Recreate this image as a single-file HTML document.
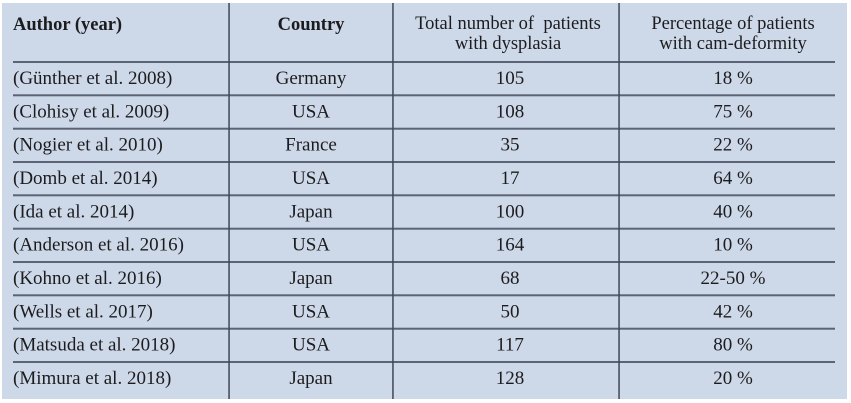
<!DOCTYPE html>
<html>
<head>
<meta charset="utf-8">
<style>
  html, body { margin:0; padding:0; background:#ffffff; }
  body { width:851px; height:403px; overflow:hidden; }
  svg { display:block; }
  text { font-family: "Liberation Serif", serif; font-size:18.5px; fill:#1c1c1f; }
  .b { font-weight:bold; }
  .r text { font-size:19px; }
</style>
</head>
<body>
<svg width="851" height="403" viewBox="0 0 851 403" xmlns="http://www.w3.org/2000/svg">
  <rect x="2" y="3" width="845" height="396" fill="#cdd8e8"/>
  <!-- horizontal lines -->
  <g fill="#5a6474">
    <rect x="13" y="61" width="822" height="2"/>
    <rect x="13" y="94.3" width="822" height="2"/>
    <rect x="13" y="127.7" width="822" height="2"/>
    <rect x="13" y="161" width="822" height="2"/>
    <rect x="13" y="194.3" width="822" height="2"/>
    <rect x="13" y="227.7" width="822" height="2"/>
    <rect x="13" y="261" width="822" height="2"/>
    <rect x="13" y="294.3" width="822" height="2"/>
    <rect x="13" y="327.7" width="822" height="2"/>
    <rect x="13" y="361" width="822" height="2"/>
  </g>
  <!-- vertical lines -->
  <g fill="#3f4858">
    <rect x="228.3" y="3" width="1.5" height="396"/>
    <rect x="392.2" y="3" width="1.5" height="396"/>
    <rect x="618.3" y="3" width="1.5" height="396"/>
  </g>

  <!-- header -->
  <text class="b" x="13" y="30">Author (year)</text>
  <text class="b" x="311" y="30" text-anchor="middle">Country</text>
  <text x="508" y="29" text-anchor="middle" xml:space="preserve">Total number of  patients</text>
  <text x="508" y="49" text-anchor="middle">with dysplasia</text>
  <text x="733" y="29" text-anchor="middle">Percentage of patients</text>
  <text x="733" y="49" text-anchor="middle">with cam-deformity</text>

  <!-- rows -->
  <g class="r">
    <text x="13" y="84">(Günther et al. 2008)</text>
    <text x="311" y="84" text-anchor="middle">Germany</text>
    <text x="510" y="84" text-anchor="middle">105</text>
    <text x="733" y="84" text-anchor="middle">18 %</text>

    <text x="13" y="117.3">(Clohisy et al. 2009)</text>
    <text x="311" y="117.3" text-anchor="middle">USA</text>
    <text x="510" y="117.3" text-anchor="middle">108</text>
    <text x="733" y="117.3" text-anchor="middle">75 %</text>

    <text x="13" y="150.7">(Nogier et al. 2010)</text>
    <text x="311" y="150.7" text-anchor="middle">France</text>
    <text x="510" y="150.7" text-anchor="middle">35</text>
    <text x="733" y="150.7" text-anchor="middle">22 %</text>

    <text x="13" y="184">(Domb et al. 2014)</text>
    <text x="311" y="184" text-anchor="middle">USA</text>
    <text x="510" y="184" text-anchor="middle">17</text>
    <text x="733" y="184" text-anchor="middle">64 %</text>

    <text x="13" y="217.3">(Ida et al. 2014)</text>
    <text x="311" y="217.3" text-anchor="middle">Japan</text>
    <text x="510" y="217.3" text-anchor="middle">100</text>
    <text x="733" y="217.3" text-anchor="middle">40 %</text>

    <text x="13" y="250.7">(Anderson et al. 2016)</text>
    <text x="311" y="250.7" text-anchor="middle">USA</text>
    <text x="510" y="250.7" text-anchor="middle">164</text>
    <text x="733" y="250.7" text-anchor="middle">10 %</text>

    <text x="13" y="284">(Kohno et al. 2016)</text>
    <text x="311" y="284" text-anchor="middle">Japan</text>
    <text x="510" y="284" text-anchor="middle">68</text>
    <text x="733" y="284" text-anchor="middle">22-50 %</text>

    <text x="13" y="317.3">(Wells et al. 2017)</text>
    <text x="311" y="317.3" text-anchor="middle">USA</text>
    <text x="510" y="317.3" text-anchor="middle">50</text>
    <text x="733" y="317.3" text-anchor="middle">42 %</text>

    <text x="13" y="350.7">(Matsuda et al. 2018)</text>
    <text x="311" y="350.7" text-anchor="middle">USA</text>
    <text x="510" y="350.7" text-anchor="middle">117</text>
    <text x="733" y="350.7" text-anchor="middle">80 %</text>

    <text x="13" y="384">(Mimura et al. 2018)</text>
    <text x="311" y="384" text-anchor="middle">Japan</text>
    <text x="510" y="384" text-anchor="middle">128</text>
    <text x="733" y="384" text-anchor="middle">20 %</text>
  </g>
</svg>
</body>
</html>
